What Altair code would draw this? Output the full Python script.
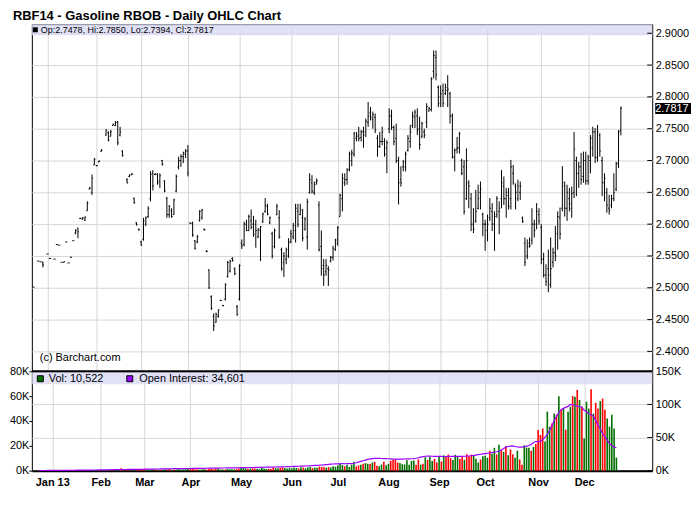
import altair as alt
import pandas as pd

title_text = "RBF14 - Gasoline RBOB - Daily OHLC Chart"
credit_text = "(c) Barchart.com"

month_labels = ["Jan 13", "Feb", "Mar", "Apr", "May", "Jun", "Jul", "Aug", "Sep", "Oct", "Nov", "Dec"]
month_index = [6, 27, 46, 66, 88, 110, 130, 152, 174, 194, 217, 237]
price_ticks = [2.40, 2.45, 2.50, 2.55, 2.60, 2.65, 2.70, 2.75, 2.80, 2.85, 2.90]
vol_ticks = [0, 20000, 40000, 60000, 80000]
oi_ticks = [0, 50000, 100000, 150000]

# (open, high, low, close) per trading day; None = no trade that day
ohlc_dec12 = [(2.501, 2.501, 2.501, 2.501), None, (2.542, 2.542, 2.542, 2.542), (2.541, 2.541, 2.541, 2.541),
              (2.540, 2.541, 2.532, 2.536), None]
ohlc_jan = [(2.553, 2.553, 2.553, 2.553), (2.546, 2.547, 2.546, 2.546), None, (2.545, 2.545, 2.545, 2.545),
            (2.568, 2.568, 2.568, 2.568), (2.567, 2.567, 2.567, 2.567), (2.540, 2.540, 2.540, 2.540),
            (2.540, 2.541, 2.540, 2.541), (2.572, 2.572, 2.572, 2.572), (2.539, 2.539, 2.539, 2.539),
            (2.548, 2.548, 2.548, 2.548), (2.574, 2.574, 2.574, 2.574), (2.586, 2.592, 2.584, 2.590),
            (2.594, 2.594, 2.578, 2.588), (2.609, 2.610, 2.608, 2.609), (2.608, 2.611, 2.607, 2.610),
            (2.606, 2.612, 2.605, 2.611), (2.621, 2.636, 2.621, 2.633), (2.655, 2.658, 2.655, 2.657),
            (2.650, 2.678, 2.646, 2.672), (2.693, 2.704, 2.693, 2.702)]
ohlc_feb = [(2.692, 2.693, 2.691, 2.692), (2.698, 2.700, 2.697, 2.699), (2.714, 2.718, 2.714, 2.716), None,
            (2.740, 2.749, 2.739, 2.748), (2.744, 2.746, 2.730, 2.732), (2.738, 2.748, 2.738, 2.745),
            (2.755, 2.758, 2.755, 2.757), (2.755, 2.762, 2.754, 2.760), (2.760, 2.762, 2.724, 2.728),
            (2.740, 2.753, 2.738, 2.745), (2.715, 2.716, 2.706, 2.708), None,
            (2.670, 2.672, 2.664, 2.665), (2.675, 2.678, 2.674, 2.677), (2.678, 2.680, 2.677, 2.679),
            (2.640, 2.642, 2.632, 2.634), (2.602, 2.603, 2.598, 2.599), (2.592, 2.593, 2.590, 2.591)]
ohlc_mar = [(2.572, 2.574, 2.566, 2.567), (2.576, 2.610, 2.574, 2.605), (2.600, 2.612, 2.597, 2.610),
            (2.612, 2.628, 2.610, 2.625), (2.640, 2.683, 2.636, 2.678), (2.680, 2.685, 2.653, 2.660),
            (2.678, 2.680, 2.677, 2.679), (2.678, 2.680, 2.662, 2.665), (2.668, 2.680, 2.657, 2.676),
            (2.700, 2.701, 2.692, 2.694), (2.668, 2.669, 2.650, 2.652), (2.640, 2.643, 2.610, 2.615),
            (2.615, 2.630, 2.610, 2.628), (2.622, 2.625, 2.610, 2.612), (2.615, 2.640, 2.615, 2.638),
            (2.652, 2.678, 2.650, 2.675), (2.690, 2.706, 2.686, 2.700), (2.700, 2.710, 2.690, 2.706),
            (2.706, 2.714, 2.696, 2.712), (2.710, 2.718, 2.704, 2.715)]
ohlc_apr = [(2.715, 2.7245, 2.675, 2.680), (2.602, 2.602, 2.600, 2.601), (2.602, 2.604, 2.580, 2.583),
            (2.574, 2.575, 2.560, 2.562), (2.572, 2.583, 2.570, 2.580), (2.606, 2.622, 2.604, 2.620),
            (2.610, 2.624, 2.607, 2.622), (2.592, 2.593, 2.590, 2.591), (2.558, 2.559, 2.556, 2.557),
            (2.528, 2.529, 2.498, 2.500), (2.486, 2.488, 2.465, 2.468), (2.455, 2.460, 2.432, 2.440),
            (2.446, 2.461, 2.445, 2.458), (2.455, 2.466, 2.453, 2.465), (2.480, 2.481, 2.479, 2.480),
            (2.472, 2.473, 2.471, 2.472), (2.482, 2.507, 2.480, 2.505), (2.518, 2.542, 2.516, 2.540),
            (2.526, 2.544, 2.524, 2.542), (2.546, 2.548, 2.541, 2.543), (2.530, 2.532, 2.520, 2.522),
            (2.470, 2.473, 2.456, 2.458)]
ohlc_may = [(2.482, 2.537, 2.480, 2.535), (2.570, 2.576, 2.561, 2.566), (2.568, 2.604, 2.565, 2.600),
            (2.600, 2.607, 2.589, 2.590), (2.590, 2.615, 2.589, 2.612), (2.605, 2.623, 2.592, 2.595),
            (2.600, 2.613, 2.580, 2.584), (2.600, 2.607, 2.563, 2.590), (2.580, 2.594, 2.578, 2.592),
            (2.590, 2.597, 2.542, 2.596), (2.604, 2.618, 2.602, 2.616), (2.620, 2.641, 2.618, 2.630),
            (2.628, 2.632, 2.614, 2.616), (2.602, 2.612, 2.600, 2.610), (2.585, 2.588, 2.546, 2.550),
            (2.565, 2.593, 2.562, 2.590), (2.615, 2.632, 2.614, 2.628), (2.610, 2.622, 2.577, 2.580),
            (2.560, 2.563, 2.527, 2.530), (2.540, 2.556, 2.517, 2.550), (2.545, 2.563, 2.537, 2.560),
            (2.550, 2.578, 2.547, 2.572)]
ohlc_jun = [(2.572, 2.591, 2.570, 2.585), (2.580, 2.602, 2.576, 2.598), (2.590, 2.632, 2.571, 2.625),
            (2.620, 2.632, 2.595, 2.600), (2.615, 2.632, 2.614, 2.622), (2.610, 2.624, 2.573, 2.578),
            (2.592, 2.611, 2.590, 2.608), (2.580, 2.640, 2.560, 2.635), (2.650, 2.680, 2.648, 2.670),
            (2.665, 2.677, 2.648, 2.652), (2.650, 2.667, 2.646, 2.662), (2.665, 2.672, 2.662, 2.668),
            (2.630, 2.636, 2.557, 2.560), (2.565, 2.590, 2.519, 2.530), (2.535, 2.545, 2.503, 2.520),
            (2.525, 2.545, 2.519, 2.535), (2.530, 2.534, 2.503, 2.528), (2.542, 2.550, 2.540, 2.548),
            (2.548, 2.566, 2.543, 2.562), (2.560, 2.577, 2.558, 2.575)]
ohlc_jul = [(2.570, 2.597, 2.566, 2.594), (2.612, 2.648, 2.612, 2.645), (2.640, 2.680, 2.620, 2.672),
            (2.665, 2.680, 2.660, 2.670), (2.670, 2.688, 2.662, 2.685), (2.686, 2.714, 2.683, 2.710),
            (2.700, 2.717, 2.691, 2.712), (2.710, 2.745, 2.706, 2.742), (2.735, 2.745, 2.730, 2.738),
            (2.740, 2.753, 2.730, 2.735), (2.736, 2.748, 2.730, 2.745), (2.745, 2.753, 2.720, 2.740),
            (2.745, 2.766, 2.737, 2.762), (2.760, 2.792, 2.753, 2.770), (2.775, 2.784, 2.763, 2.768),
            (2.765, 2.777, 2.750, 2.772), (2.768, 2.774, 2.743, 2.748), (2.735, 2.740, 2.706, 2.722),
            (2.722, 2.745, 2.720, 2.730), (2.730, 2.753, 2.724, 2.745), (2.730, 2.735, 2.706, 2.710),
            (2.720, 2.732, 2.680, 2.728)]
ohlc_aug = [(2.750, 2.782, 2.743, 2.770), (2.770, 2.780, 2.748, 2.752), (2.752, 2.755, 2.724, 2.730),
            (2.735, 2.758, 2.696, 2.700), (2.700, 2.706, 2.631, 2.665), (2.670, 2.691, 2.659, 2.665),
            (2.690, 2.701, 2.683, 2.698), (2.690, 2.714, 2.683, 2.710), (2.716, 2.740, 2.714, 2.735),
            (2.730, 2.756, 2.720, 2.745), (2.755, 2.777, 2.751, 2.770), (2.768, 2.780, 2.751, 2.776),
            (2.770, 2.782, 2.740, 2.748), (2.750, 2.769, 2.717, 2.725), (2.738, 2.761, 2.735, 2.758),
            (2.745, 2.750, 2.735, 2.740), (2.760, 2.790, 2.751, 2.785), (2.778, 2.784, 2.777, 2.782),
            (2.780, 2.831, 2.777, 2.828), (2.840, 2.873, 2.829, 2.865), (2.862, 2.873, 2.826, 2.835),
            (2.815, 2.818, 2.784, 2.790)]
ohlc_sep = [(2.800, 2.818, 2.784, 2.805), (2.810, 2.821, 2.784, 2.790), (2.805, 2.821, 2.803, 2.815),
            (2.810, 2.834, 2.784, 2.812), (2.805, 2.808, 2.758, 2.770), (2.770, 2.774, 2.703, 2.706),
            (2.705, 2.719, 2.683, 2.716), (2.718, 2.737, 2.711, 2.720), (2.720, 2.745, 2.711, 2.742),
            (2.700, 2.703, 2.677, 2.680), (2.690, 2.701, 2.615, 2.620), (2.640, 2.719, 2.638, 2.700),
            (2.665, 2.669, 2.625, 2.660), (2.640, 2.649, 2.589, 2.600), (2.600, 2.625, 2.586, 2.592),
            (2.605, 2.654, 2.602, 2.620), (2.625, 2.662, 2.623, 2.640), (2.650, 2.667, 2.623, 2.655),
            (2.615, 2.618, 2.581, 2.600), (2.600, 2.607, 2.558, 2.600)]
ohlc_oct = [(2.590, 2.615, 2.573, 2.600), (2.610, 2.641, 2.605, 2.625), (2.620, 2.633, 2.589, 2.600),
            (2.600, 2.620, 2.558, 2.612), (2.615, 2.644, 2.610, 2.640), (2.620, 2.636, 2.584, 2.625),
            (2.640, 2.685, 2.625, 2.665), (2.660, 2.675, 2.630, 2.640), (2.640, 2.657, 2.610, 2.650),
            (2.645, 2.657, 2.623, 2.628), (2.640, 2.701, 2.623, 2.690), (2.680, 2.693, 2.662, 2.665),
            (2.660, 2.664, 2.623, 2.650), (2.640, 2.670, 2.636, 2.660), (2.650, 2.667, 2.638, 2.660),
            (2.610, 2.612, 2.602, 2.604), (2.570, 2.579, 2.534, 2.540), (2.550, 2.576, 2.545, 2.565),
            (2.570, 2.579, 2.563, 2.566), (2.575, 2.625, 2.568, 2.600), (2.600, 2.607, 2.579, 2.590),
            (2.600, 2.633, 2.592, 2.620), (2.615, 2.625, 2.599, 2.605)]
ohlc_nov = [(2.595, 2.600, 2.537, 2.545), (2.545, 2.555, 2.516, 2.520), (2.520, 2.537, 2.503, 2.510),
            (2.530, 2.560, 2.493, 2.520), (2.505, 2.579, 2.500, 2.530), (2.540, 2.563, 2.532, 2.555),
            (2.555, 2.597, 2.542, 2.550), (2.585, 2.620, 2.560, 2.612), (2.610, 2.626, 2.576, 2.585),
            (2.625, 2.691, 2.620, 2.665), (2.660, 2.667, 2.612, 2.625), (2.625, 2.662, 2.605, 2.650),
            (2.640, 2.657, 2.620, 2.632), (2.625, 2.659, 2.610, 2.648), (2.650, 2.745, 2.641, 2.718),
            (2.700, 2.706, 2.644, 2.680), (2.680, 2.698, 2.657, 2.690), (2.690, 2.712, 2.662, 2.670),
            (2.675, 2.714, 2.665, 2.700), (2.700, 2.714, 2.662, 2.668)]
ohlc_dec = [(2.668, 2.709, 2.662, 2.705), (2.700, 2.740, 2.680, 2.735), (2.720, 2.753, 2.706, 2.745),
            (2.745, 2.751, 2.696, 2.705), (2.705, 2.756, 2.698, 2.745), (2.740, 2.743, 2.706, 2.715),
            (2.700, 2.706, 2.644, 2.665), (2.665, 2.680, 2.636, 2.672), (2.650, 2.657, 2.618, 2.630),
            (2.625, 2.646, 2.615, 2.622), (2.630, 2.646, 2.625, 2.640), (2.640, 2.680, 2.636, 2.650),
            (2.655, 2.698, 2.652, 2.695), (2.695, 2.748, 2.688, 2.745), (2.7478, 2.7850, 2.7394, 2.7817)]

vol_dec12 = [120, 0, 150, 100, 180, 0]
vol_jan = [200, 150, 0, 120, 260, 180, 150, 220, 300, 160, 240, 280, 350, 420, 300, 260, 380, 450, 500, 620, 560]
vol_feb = [480, 520, 600, 0, 700, 650, 520, 780, 900, 2100, 850, 640, 0, 700, 560, 600, 900, 820, 1400]
vol_mar = [1100, 900, 760, 820, 1300, 980, 700, 850, 760, 1200, 900, 1500, 760, 880, 1000, 1350, 900, 1100, 1250, 1300]
vol_apr = [1700, 1400, 900, 1100, 850, 1000, 1200, 900, 1400, 1650, 1200, 1800, 1500, 900, 1000, 800, 1300, 1200,
           1150, 1000, 1250, 1900]
vol_may = [2300, 2600, 1900, 1400, 1700, 2100, 1800, 1500, 1300, 2200, 1700, 1500, 1600, 1300, 2600, 2000, 1900,
           2300, 2700, 2100, 1800, 2200]
vol_jun = [2000, 2500, 2200, 1900, 2800, 2400, 2000, 2600, 3200, 2100, 2500, 2300, 3300, 3100, 2800, 2400, 3000,
           2600, 3500, 3200]
vol_jul = [4200, 5800, 4500, 3600, 4800, 3000, 4800, 7300, 3400, 4300, 4800, 5600, 6100, 5500, 5300, 6600, 7200,
           3900, 3700, 5000, 7300, 4300]
vol_aug = [5500, 8000, 8700, 9300, 6600, 6100, 5200, 5000, 8400, 4800, 7900, 8200, 4700, 9200, 4900, 5600, 10900,
           8600, 11000, 7800, 9500, 6600]
vol_sep = [11000, 7400, 12400, 11900, 13000, 10100, 8600, 12800, 11000, 9400, 11300, 8700, 13300, 11600, 12900,
           11900, 9600, 6600, 9000, 11600]
vol_oct = [12100, 10400, 16000, 13600, 18400, 13100, 20800, 16400, 15100, 19800, 12400, 17100, 13200, 10400, 16100,
           9000, 4700, 20400, 18600, 18400, 16000, 19200, 21500]
vol_nov = [32800, 28800, 34000, 23500, 47500, 35500, 38000, 46000, 45000, 60000, 49000, 50000, 33000, 47500, 51500,
           60000, 59500, 65000, 57000, 51500]
vol_dec = [26000, 55500, 50000, 65600, 46000, 54700, 50000, 56000, 58000, 49000, 42000, 35500, 45000, 34000, 10522]

oi_dec12 = [300, 320, 340, 350, 380, 400]
oi_jan = [420, 450, 480, 500, 520, 560, 600, 640, 660, 700, 720, 760, 800, 840, 880, 900, 950, 1000, 1050, 1100, 1150]
oi_feb = [1200, 1260, 1300, 1350, 1420, 1500, 1560, 1600, 1680, 1750, 1800, 1850, 1900, 1960, 2000, 2050, 2100,
          2150, 2200]
oi_mar = [2250, 2300, 2380, 2420, 2500, 2560, 2600, 2650, 2700, 2780, 2850, 2900, 2950, 3000, 3060, 3100, 3150,
          3200, 3260, 3300]
oi_apr = [3350, 3400, 3450, 3500, 3560, 3600, 3650, 3700, 3760, 3800, 3850, 3900, 3950, 4000, 4060, 4100, 4150,
          4200, 4280, 4350, 4400, 4450]
oi_may = [4500, 4580, 4650, 4700, 4800, 4850, 4900, 5000, 5100, 5150, 5200, 5300, 5400, 5450, 5500, 5600, 5700,
          5800, 5900, 6000, 6100, 6200]
oi_jun = [6300, 6400, 6550, 6700, 6800, 6950, 7100, 7300, 7500, 7700, 7900, 8100, 8300, 8600, 8900, 9200, 9500,
          9800, 10100, 10400]
oi_jul = [10400, 10500, 10600, 10500, 10700, 10600, 10600, 11200, 12000, 13000, 14000, 15000, 16000, 17000, 17800,
          18300, 18600, 18700, 18600, 18400, 18300, 18200]
oi_aug = [18000, 17800, 17600, 17500, 17400, 17500, 17600, 17700, 17800, 17900, 18000, 18300, 18800, 19500, 20500,
          21300, 21800, 22000, 22000, 21800, 21700, 21600]
oi_sep = [21500, 21600, 21400, 21300, 21500, 21600, 21700, 21500, 21600, 21800, 21700, 21800, 21900, 22200, 22600,
          23000, 23600, 24200, 24800, 25300]
oi_oct = [25800, 26300, 26800, 27400, 28000, 28600, 29300, 31000, 33500, 35500, 36500, 37000, 37500, 36500, 35800,
          35500, 35700, 36200, 37000, 38000, 40000, 42500, 44000]
oi_nov = [44200, 44000, 47000, 50500, 55000, 61000, 68000, 76000, 82000, 88000, 92000, 94000, 95500, 97000, 100000,
          99500, 98000, 97500, 96500, 96000]
oi_dec = [91000, 89000, 86000, 84500, 82000, 76000, 69000, 63000, 56000, 51000, 46000, 41000, 38000, 35500, 34601]

segments = [
    (0, ohlc_dec12, vol_dec12, oi_dec12), (6, ohlc_jan, vol_jan, oi_jan), (27, ohlc_feb, vol_feb, oi_feb),
    (46, ohlc_mar, vol_mar, oi_mar), (66, ohlc_apr, vol_apr, oi_apr), (88, ohlc_may, vol_may, oi_may),
    (110, ohlc_jun, vol_jun, oi_jun), (130, ohlc_jul, vol_jul, oi_jul), (152, ohlc_aug, vol_aug, oi_aug),
    (174, ohlc_sep, vol_sep, oi_sep), (194, ohlc_oct, vol_oct, oi_oct), (217, ohlc_nov, vol_nov, oi_nov),
    (237, ohlc_dec, vol_dec, oi_dec),
]

rows = []
for start, ohlc, vol, oi in segments:
    assert len(ohlc) == len(vol) == len(oi), (start, len(ohlc), len(vol), len(oi))
    for k, (bar, v, o) in enumerate(zip(ohlc, vol, oi)):
        r = {"i": start + k, "vol": v, "oi": o}
        if bar is not None:
            r.update(o=bar[0], h=bar[1], l=bar[2], c=bar[3])
        rows.append(r)
df = pd.DataFrame(rows)
df["il"] = df["i"] - 0.45
df["ir"] = df["i"] + 0.45
prev_close = df["c"].ffill().shift(1)
df["dir"] = ["up" if (pd.isna(p) or (pd.notna(c) and c >= p)) else "down" for c, p in zip(df["c"], prev_close)]

bars = df[df["h"].notna()].copy()
vols = df[df["vol"] > 0].copy()
last = bars.iloc[-1]
last_df = bars.tail(1)
last_oi = df.iloc[-1]["oi"]
op_text = "Op:%.4f, Hi:%.4f, Lo:%.4f, Cl:%.4f" % (last["o"], last["h"], last["l"], last["c"])
vol_text = "Vol: {:,}".format(int(last["vol"]))
oi_text = "Open Interest: {:,}".format(int(last_oi))

# ---------------- layout / style ----------------
FONT = "Liberation Sans"
GRID = "#d6d6d6"
BAND = "#d8d8f4"
GREEN = "#007000"
RED = "#ff0000"
PURPLE = "#9a00ff"
W = 624
H_TOP = 349
H_BOT = 100

xscale = alt.Scale(domain=[-0.7, 264.4], nice=False, zero=False)
pscale = alt.Scale(domain=[2.36875, 2.9140625], nice=False, zero=False)
vscale = alt.Scale(domain=[0, 80000], nice=False)
oscale = alt.Scale(domain=[0, 150000], nice=False)

month_expr = " : ".join("datum.value == %d ? '%s'" % (v, lab) for v, lab in zip(month_index, month_labels)) + " : ''"
k_expr = "format(datum.value / 1000, 'd') + 'K'"

one = pd.DataFrame({"k": [0]})

xa_top = alt.Axis(values=month_index, grid=True, gridColor=GRID, labels=False, ticks=False, domain=False, title=None)
ya_top = alt.Axis(orient="right", values=price_ticks, format=".4f", tickSize=0, labelPadding=3, domain=False,
                  grid=True, gridColor=GRID, title=None)


def PX(f):
    return alt.X(f + ":Q", scale=xscale, axis=xa_top)


def PY(f):
    return alt.Y(f + ":Q", scale=pscale, axis=ya_top)


band_top = alt.Chart(one).mark_rect(color=BAND, opacity=0.75).encode(
    x=alt.value(0), x2=alt.value(W), y=alt.value(0), y2=alt.value(11))
hl = alt.Chart(bars).mark_rule(color="black", strokeWidth=1).encode(x=PX("i"), y=PY("l"), y2="h:Q")
op = alt.Chart(bars).mark_rule(color="black", strokeWidth=1).encode(x=PX("il"), x2="i:Q", y=PY("o"))
cl = alt.Chart(bars).mark_rule(color="black", strokeWidth=1).encode(x=PX("i"), x2="ir:Q", y=PY("c"))
ptick = alt.Chart(pd.DataFrame({"p": price_ticks})).mark_rule(color="black").encode(
    x=alt.value(W - 5), x2=alt.value(W), y=PY("p"))
sq_top = alt.Chart(one).mark_rect(color="black").encode(
    x=alt.value(1), x2=alt.value(6), y=alt.value(3), y2=alt.value(8))
txt_top = alt.Chart(one).mark_text(align="left", baseline="middle", font=FONT, fontSize=9, color="black").encode(
    x=alt.value(9), y=alt.value(6), text=alt.value(op_text))
credit = alt.Chart(one).mark_text(align="left", baseline="middle", font=FONT, fontSize=11, color="black").encode(
    x=alt.value(8), y=alt.value(H_TOP - 13), text=alt.value(credit_text))
last_box = alt.Chart(last_df).mark_tick(orient="horizontal", thickness=11, size=36, color="black", opacity=1).encode(
    x=alt.value(W + 21), y=PY("c"))
last_txt = alt.Chart(last_df).mark_text(align="left", baseline="middle", font=FONT, fontSize=11, color="white").encode(
    x=alt.value(W + 3), y=PY("c"), text=alt.Text("c:Q", format=".4f"))

top = alt.layer(band_top, hl, op, cl, ptick, sq_top, txt_top, credit, last_box, last_txt).properties(
    width=W, height=H_TOP)

xa_bot = alt.Axis(values=month_index, labelExpr=month_expr, grid=True, gridColor=GRID, ticks=False, labelPadding=6,
                  domain=True, domainColor="black", domainWidth=2, labelFontWeight="bold", labelFontSize=11,
                  title=None)
ya_vol = alt.Axis(orient="left", values=vol_ticks, labelExpr=k_expr, tickSize=3, tickColor="black", labelPadding=0,
                  grid=False, domain=False, title=None)
ya_oi = alt.Axis(orient="right", values=oi_ticks, labelExpr=k_expr, tickSize=0, labelPadding=3, grid=True,
                 gridColor=GRID, domain=False, title=None)

band_bot = alt.Chart(one).mark_rect(color=BAND, opacity=0.75).encode(
    x=alt.value(0), x2=alt.value(W), y=alt.value(0), y2=alt.value(13))
vol_bars = alt.Chart(vols).mark_bar(width=1.6).encode(
    x=alt.X("i:Q", scale=xscale, axis=xa_bot),
    y=alt.Y("vol:Q", scale=vscale, axis=ya_vol),
    color=alt.Color("dir:N", scale=alt.Scale(domain=["up", "down"], range=[GREEN, RED]), legend=None))
oi_line = alt.Chart(df).mark_line(color=PURPLE, strokeWidth=1.2).encode(
    x=alt.X("i:Q", scale=xscale, axis=xa_bot), y=alt.Y("oi:Q", scale=oscale, axis=ya_oi))
oi_tk = alt.Chart(pd.DataFrame({"oi": oi_ticks})).mark_rule(color="black").encode(
    x=alt.value(W - 5), x2=alt.value(W), y=alt.Y("oi:Q", scale=oscale, axis=ya_oi))
top_line = alt.Chart(one).mark_rule(color="black", strokeWidth=2).encode(
    x=alt.value(0), x2=alt.value(W), y=alt.value(0))
sq_vol = alt.Chart(one).mark_rect(color=GREEN, stroke="black", strokeWidth=1).encode(
    x=alt.value(5.5), x2=alt.value(11.5), y=alt.value(4.5), y2=alt.value(10.5))
txt_vol = alt.Chart(one).mark_text(align="left", baseline="middle", font=FONT, fontSize=11, color="black").encode(
    x=alt.value(17), y=alt.value(8), text=alt.value(vol_text))
sq_oi = alt.Chart(one).mark_rect(color=PURPLE, stroke="black", strokeWidth=1).encode(
    x=alt.value(95.5), x2=alt.value(101.5), y=alt.value(4.5), y2=alt.value(10.5))
txt_oi = alt.Chart(one).mark_text(align="left", baseline="middle", font=FONT, fontSize=11, color="black").encode(
    x=alt.value(108), y=alt.value(8), text=alt.value(oi_text))

bottom = alt.layer(
    band_bot, vol_bars, alt.layer(oi_line, oi_tk), top_line, sq_vol, txt_vol, sq_oi, txt_oi
).resolve_scale(y="independent").properties(width=W, height=H_BOT)

chart = alt.vconcat(top, bottom, spacing=0, bounds="flush").properties(
    title=alt.TitleParams(title_text, anchor="start", font=FONT, fontSize=13, fontWeight="bold", color="black",
                          offset=1, dx=4),
    padding={"left": 0, "top": 0, "right": 0, "bottom": 0},
    background="white",
).configure_view(stroke="black", strokeWidth=1).configure_axis(
    labelFont=FONT, labelFontSize=11, labelColor="black"
)

chart.save("out.html", embed_options={"renderer": "svg", "actions": False})
